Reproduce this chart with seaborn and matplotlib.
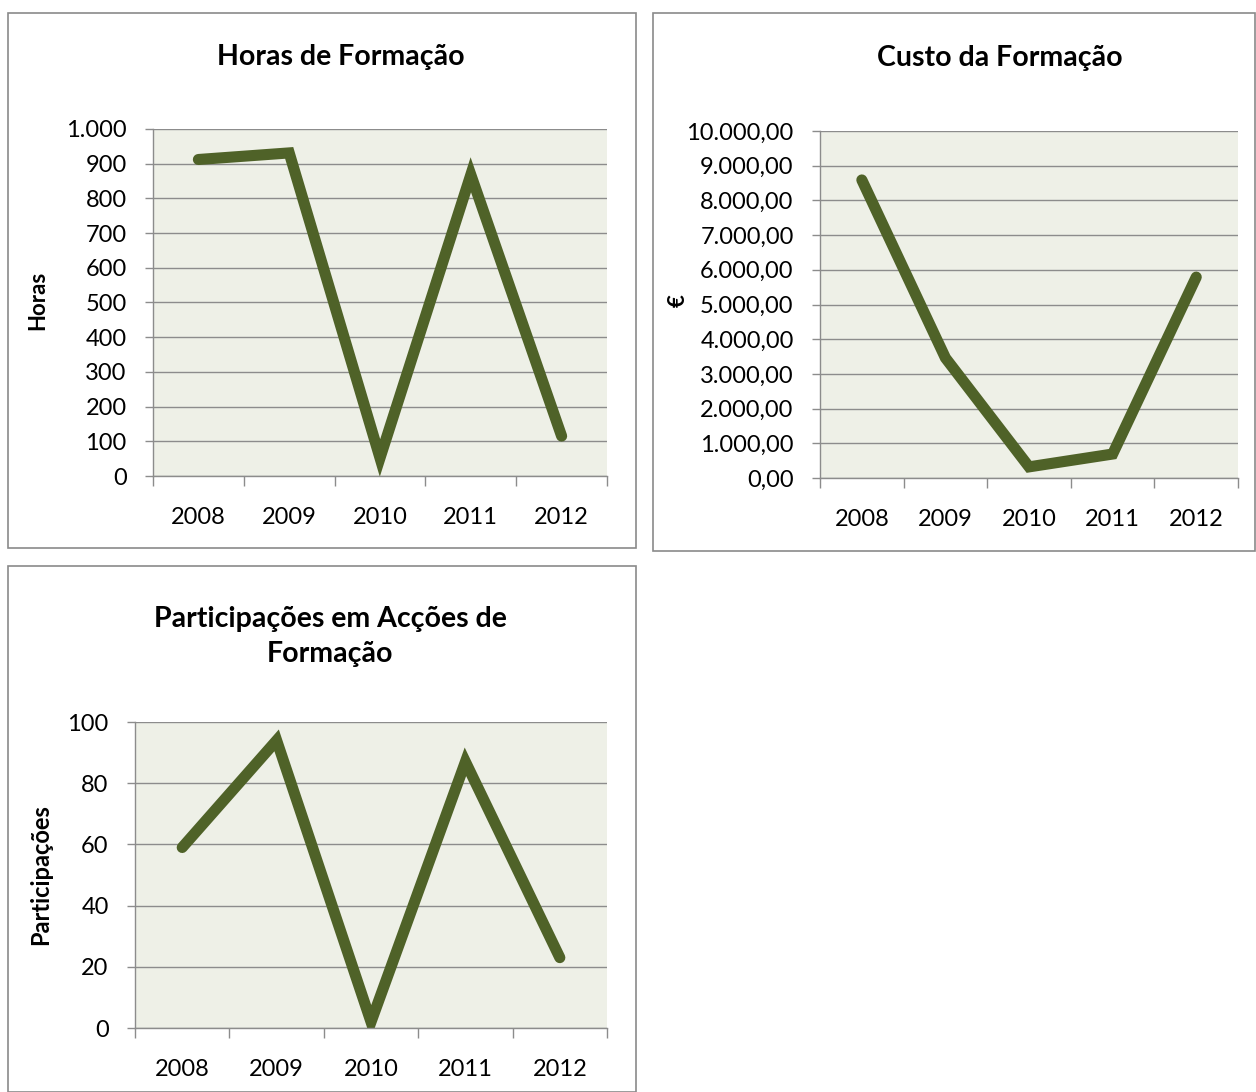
import matplotlib
matplotlib.use("Agg")
import matplotlib.pyplot as plt
import seaborn as sns
from matplotlib.patches import Rectangle
from matplotlib.ticker import FuncFormatter, FixedLocator

# Dados
anos = ["2008", "2009", "2010", "2011", "2012"]
horas = [912, 931, 52, 868, 115]
custo = [8590, 3460, 320, 690, 5790]
participacoes = [59, 94, 2, 87, 23]

cor_linha = "#4F6228"
cor_fundo = "#EEF0E7"
cor_grelha = "#8C8C8C"

sns.set_style("white")
plt.rcParams["font.family"] = ["Lato", "DejaVu Sans"]
plt.rcParams["text.color"] = "black"
plt.rcParams["xtick.color"] = "black"
plt.rcParams["ytick.color"] = "black"


def fmt_milhar(v, pos):
    return f"{int(round(v)):,}".replace(",", ".")


def fmt_euro(v, pos):
    s = f"{v:,.2f}"
    return s.replace(",", "X").replace(".", ",").replace("X", ".")


def desenha(ax, valores, ymax, ystep, formatador):
    x = list(range(len(anos)))
    sns.lineplot(x=x, y=valores, ax=ax, color=cor_linha, linewidth=8,
                 solid_capstyle="round", solid_joinstyle="miter")
    ax.set_facecolor(cor_fundo)
    ax.set_xlim(-0.5, len(anos) - 0.5)
    ax.set_ylim(0, ymax)
    ax.set_yticks([i * ystep for i in range(int(ymax / ystep) + 1)])
    ax.yaxis.set_major_formatter(FuncFormatter(formatador))
    ax.yaxis.grid(True, color=cor_grelha, linewidth=1)
    ax.set_axisbelow(True)
    # marcas entre categorias, rótulos no centro
    ax.xaxis.set_major_locator(FixedLocator([i - 0.5 for i in range(len(anos) + 1)]))
    ax.xaxis.set_major_formatter(FuncFormatter(lambda v, p: ""))
    ax.xaxis.set_minor_locator(FixedLocator(x))
    ax.set_xticklabels(anos, minor=True)
    ax.tick_params(axis="x", which="major", bottom=True, direction="out",
                   length=7, width=1, color=cor_grelha)
    ax.tick_params(axis="x", which="minor", bottom=True, length=0, pad=22,
                   labelsize=17)
    ax.tick_params(axis="y", left=True, direction="out", length=6, width=1,
                   color=cor_grelha, labelcolor="black", labelsize=17, pad=13)
    for s in ["top", "right"]:
        ax.spines[s].set_visible(False)
    for s in ["left", "bottom"]:
        ax.spines[s].set_color(cor_grelha)
        ax.spines[s].set_linewidth(1)
    ax.set_xlabel("")
    ax.set_ylabel("")


fig = plt.figure(figsize=(12.56, 10.92), dpi=100)
fig.patch.set_facecolor("white")

# caixas dos gráficos
for (x0, y0, w, h) in [(0.0064, 0.4982, 0.5, 0.4899),
                       (0.5199, 0.4954, 0.4793, 0.4927),
                       (0.0064, 0.0, 0.5, 0.4817)]:
    fig.add_artist(Rectangle((x0, y0), w, h, transform=fig.transFigure,
                             fill=False, edgecolor="#8A8A8A", linewidth=1.2))

ax1 = fig.add_axes([0.1218, 0.5641, 0.3615, 0.3178])
desenha(ax1, horas, 1000, 100, fmt_milhar)
fig.text(0.271, 0.948, "Horas de Formação", ha="center", va="center",
         fontsize=20.5, fontweight="bold")
fig.text(0.030, 0.725, "Horas", rotation=90, ha="center", va="center",
         fontsize=16, fontweight="bold")

ax2 = fig.add_axes([0.6529, 0.5623, 0.3328, 0.3177])
desenha(ax2, custo, 10000, 1000, fmt_euro)
fig.text(0.796, 0.947, "Custo da Formação", ha="center", va="center",
         fontsize=20.5, fontweight="bold")
fig.text(0.540, 0.725, "€", rotation=90, ha="center", va="center",
         fontsize=16, fontweight="bold")

ax3 = fig.add_axes([0.1075, 0.0586, 0.3758, 0.2802])
desenha(ax3, participacoes, 100, 20, fmt_milhar)
fig.text(0.263, 0.417, "Participações em Acções de\nFormação", ha="center",
         va="center", fontsize=20.5, fontweight="bold", linespacing=1.45)
fig.text(0.032, 0.199, "Participações", rotation=90, ha="center",
         va="center", fontsize=17, fontweight="bold")

fig.savefig("out.png", dpi=100, facecolor="white")
